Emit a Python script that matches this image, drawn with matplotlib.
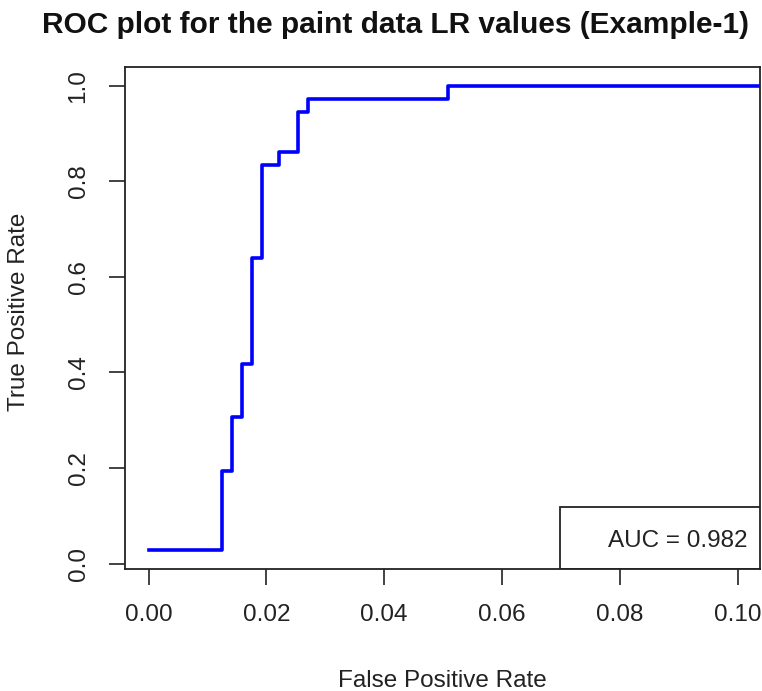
import matplotlib
matplotlib.use("Agg")
import matplotlib.pyplot as plt
from matplotlib.patches import Rectangle

plt.rcParams['font.family'] = ['Liberation Sans', 'DejaVu Sans']

# ROC steps (false positive rate, true positive rate)
fpr = [0.0, 0.0125, 0.0142, 0.0158, 0.0175, 0.0193, 0.0222, 0.0254, 0.0271, 0.0509, 1.0]
tpr = [0.0278, 0.194, 0.306, 0.417, 0.639, 0.833, 0.861, 0.944, 0.972, 1.0, 1.0]
auc = 0.982
xticks = [0.00, 0.02, 0.04, 0.06, 0.08, 0.10]
yticks = [0.0, 0.2, 0.4, 0.6, 0.8, 1.0]

fig = plt.figure(figsize=(7.62, 6.91), dpi=100)
ax = fig.add_axes([125/762, 1-569/691, (760-125)/762, (569-67)/691])

ax.step(fpr, tpr, where='post', color='#0000ff', lw=2.6)

ax.set_xlim(-0.004, 0.1038)
ax.set_ylim(0.0278 - 0.0389, 1.0389)
ax.set_xticks(xticks)
ax.set_xticklabels(["%.2f" % v for v in xticks])
ax.set_yticks(yticks)
ax.set_yticklabels(["%.1f" % v for v in yticks], rotation=90, va='center')
ax.tick_params(length=11.5, width=1.2, labelsize=17.5, color='#222222', labelcolor='#222222', pad=14)
for s in ax.spines.values():
    s.set_linewidth(1.3)
    s.set_color('#222222')

# AUC box in the bottom right corner
box = Rectangle((0.0698, ax.get_ylim()[0]), 0.04, 0.1295, fill=False, lw=1.3, ec='#222222', clip_on=True)
ax.add_patch(box)
ax.text(0.1017, 0.0480, "AUC = %.3f" % auc, ha='right', va='center', fontsize=17.5, color='#222222')

fig.text(395/762, 1-33/691, "ROC plot for the paint data LR values (Example-1)",
         ha='center', va='baseline', fontsize=21.5, fontweight='bold', color='#111111')
fig.text(442/762, 1-687/691, "False Positive Rate", ha='center', va='baseline', fontsize=17.5, color='#222222')
fig.text(19/762, 1-312/691, "True Positive Rate", ha='center', va='center', fontsize=17.5,
         rotation=90, color='#222222')

fig.savefig("out.png", dpi=100)
